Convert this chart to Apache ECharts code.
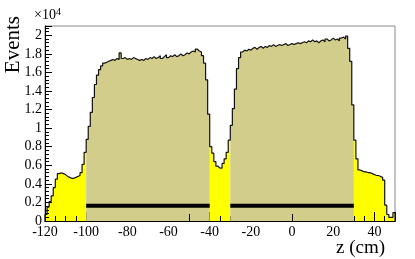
<!DOCTYPE html>
<html><head><meta charset="utf-8">
<script src="https://cdn.jsdelivr.net/npm/echarts@6/dist/echarts.min.js"></script>
<style>html,body{margin:0;padding:0;background:#fff}#c{width:415px;height:259px}</style>
</head><body><div id="c"></div>
<script>
// Histogram: 1 cm bins, left edges from -120 to 49; values in units of 10^4 events
const binStart = -120;
const binWidth = 1;
const counts = [
  // -120 .. -101
  0.07,0.15,0.21,0.27,0.36,0.45,0.51,0.52,0.51,0.50,0.48,0.47,0.46,0.46,0.47,0.48,0.49,0.52,0.61,0.74,
  // -100 .. -41
  0.88,1.02,1.17,1.33,1.47,1.57,1.63,1.67,1.70,1.71,1.72,1.73,1.74,1.73,1.75,1.74,1.81,1.75,1.76,1.74,
  1.75,1.74,1.76,1.75,1.74,1.73,1.74,1.73,1.75,1.74,1.76,1.75,1.77,1.75,1.76,1.78,1.75,1.77,1.79,1.76,
  1.78,1.77,1.79,1.77,1.78,1.80,1.78,1.79,1.81,1.80,1.82,1.83,1.82,1.85,1.83,1.82,1.78,1.70,1.52,1.15,
  // -40 .. -31
  0.80,0.73,0.64,0.59,0.57,0.57,0.62,0.67,0.74,0.87,
  // -30 .. 29
  1.03,1.21,1.42,1.64,1.76,1.82,1.84,1.83,1.85,1.84,1.86,1.87,1.85,1.87,1.88,1.86,1.88,1.87,1.89,1.88,
  1.90,1.88,1.89,1.90,1.89,1.90,1.91,1.89,1.90,1.91,1.90,1.91,1.92,1.91,1.92,1.93,1.92,1.94,1.93,1.95,
  1.93,1.94,1.92,1.94,1.95,1.93,1.96,1.94,1.95,1.97,1.95,1.96,1.94,1.97,1.98,1.96,1.99,1.86,1.72,1.25,
  // 30 .. 49
  0.87,0.67,0.55,0.54,0.53,0.53,0.52,0.52,0.51,0.50,0.49,0.49,0.48,0.47,0.44,0.17,0.07,0.04,0.04,0.09
];
const yellowRanges = [[-120,-100],[-40,-30],[30,50]];
const khakiRanges = [[-100,-40],[-30,30]];
const bandLevel = 0.165;
const bandRanges = [[-100,-40],[-30,30]];
const markerTicks = [-50, 0];
const xMin = -120, xMax = 50, xStep = 20;
const yMin = 0, yMax = 2.1, yStep = 0.2;

const FONT = "'Liberation Serif','DejaVu Serif',serif";
const KHAKI = '#d3cd8b';
const YELLOW = '#ffff00';

function valAt(edge){ return counts[Math.round((edge - binStart)/binWidth)]; }
function stepPts(lo, hi){
  const pts = [];
  for (let e = lo; e < hi; e += binWidth) pts.push([e, valAt(e)]);
  pts.push([hi, valAt(hi - binWidth)]);
  return pts;
}
function fillSeries(r, color, z){
  return {type:'line', step:'end', data: stepPts(r[0], r[1]), symbol:'none', silent:true,
    lineStyle:{width:0}, areaStyle:{color:color, opacity:1}, z:z, animation:false};
}
const outline = [[binStart, 0]];
for (let i = 0; i < counts.length; i++) outline.push([binStart + i*binWidth, counts[i]]);
outline.push([binStart + counts.length*binWidth, counts[counts.length-1]]);
outline.push([binStart + counts.length*binWidth, 0]);

const series = [];
yellowRanges.forEach(r => series.push(fillSeries(r, YELLOW, 2)));
khakiRanges.forEach(r => series.push(fillSeries(r, KHAKI, 4)));
series.push({type:'line', step:'end', data: outline, symbol:'none', silent:true,
  lineStyle:{color:'#111', width:1.2}, z:5, animation:false});
bandRanges.forEach(r => series.push({type:'line', data:[[r[0], bandLevel],[r[1], bandLevel]], symbol:'none',
  silent:true, lineStyle:{color:'#000', width:4, cap:'butt'}, z:5, animation:false}));

const chart = echarts.init(document.getElementById('c'), null, {renderer:'canvas'});
chart.setOption({
  animation:false,
  grid:{left:45, right:20, top:26, bottom:38, show:true, borderColor:'#888', borderWidth:1, backgroundColor:'transparent', outerBoundsMode:'none'},
  xAxis:[{
    type:'value', min:xMin, max:xMax, interval:xStep, z:3,
    axisLine:{show:true, onZero:false, lineStyle:{color:'#000', width:1}},
    axisTick:{show:true, inside:true, length:9, lineStyle:{color:'#000'}},
    minorTick:{show:true, splitNumber:4, length:5, lineStyle:{color:'#000'}},
    splitLine:{show:false},
    axisLabel:{color:'#000', fontFamily:FONT, fontSize:14, margin:4, showMaxLabel:false}
  },{
    type:'value', min:xMin, max:xMax, z:6, position:'bottom',
    axisLine:{show:true, onZero:false, lineStyle:{color:'#000', width:1}},
    axisTick:{show:true, inside:true, length:7, customValues:markerTicks, lineStyle:{color:'#000'}},
    axisLabel:{show:false}, splitLine:{show:false}
  }],
  yAxis:{
    type:'value', min:yMin, max:yMax, interval:yStep, z:3,
    axisLine:{show:true, onZero:false, lineStyle:{color:'#000', width:1}},
    axisTick:{show:true, inside:true, length:7, lineStyle:{color:'#000'}},
    minorTick:{show:true, splitNumber:5, length:4, lineStyle:{color:'#000'}},
    splitLine:{show:false},
    axisLabel:{color:'#000', fontFamily:FONT, fontSize:14, margin:3, showMaxLabel:false,
      formatter: v => String(+v.toFixed(1))}
  },
  series: series,
  graphic:[
    {type:'text', x:3, y:16, rotation:Math.PI/2, z:10,
      style:{text:'Events', font:'21px '+FONT, fill:'#000', align:'right', verticalAlign:'top'}},
    {type:'text', x:385, y:239, z:10,
      style:{text:'z (cm)', font:'19px '+FONT, fill:'#000', align:'right', verticalAlign:'top'}},
    {type:'text', x:34, y:7, z:10,
      style:{text:'×10{s|4}', font:'14px '+FONT, fill:'#000', align:'left', verticalAlign:'top',
        rich:{s:{fontSize:10, fontFamily:FONT, verticalAlign:'top', padding:[0,0,7,0]}}}}
  ]
});
</script></body></html>
